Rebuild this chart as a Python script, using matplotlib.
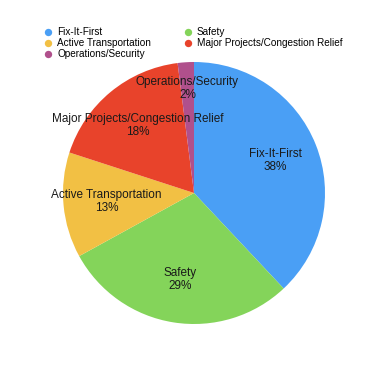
import numpy as np
import matplotlib.pyplot as plt
from matplotlib.lines import Line2D

plt.rcParams['font.family'] = ['Liberation Sans', 'DejaVu Sans']

categories = ['Fix-It-First', 'Safety', 'Active Transportation',
              'Major Projects/Congestion Relief', 'Operations/Security']
shares = [38, 29, 13, 18, 2]
colors = ['#4a9ff5', '#84d45a', '#f2c044', '#e8432b', '#b0508c']

W, H = 388, 387
fig = plt.figure(figsize=(W / 100, H / 100), dpi=100)

# pie centre (194, 193) px from top-left, radius 131 px
cx, cy, r = 194, 193, 131
ax = fig.add_axes([(cx - r) / W, (H - cy - r) / H, 2 * r / W, 2 * r / H])

labels = [f'{c}\n{v}%' for c, v in zip(categories, shares)]
wedges, texts = ax.pie(shares, colors=colors, startangle=90, counterclock=False,
                       labels=labels, labeldistance=0.67,
                       wedgeprops=dict(linewidth=0),
                       textprops=dict(fontsize=8.5, color='#1a1a1a'))
for w, t in zip(wedges, texts):
    t.set_horizontalalignment('center')
    t.set_verticalalignment('center')
    t.set_linespacing(1.15)

# small slice label sits further out
w, t = wedges[4], texts[4]
ang = np.radians((w.theta1 + w.theta2) / 2)
t.set_position((0.80 * np.cos(ang), 0.80 * np.sin(ang)))

ax.set_xlim(-1, 1)
ax.set_ylim(-1, 1)

# legend: column-wise fill, so reorder to get rows Fix/Safety, Active/Major, Ops
order = [0, 2, 4, 1, 3]
handles = [Line2D([], [], marker='o', linestyle='none', markersize=5.3,
                  markerfacecolor=colors[i], markeredgewidth=0) for i in order]
fig.legend(handles, [categories[i] for i in order], ncol=2,
           loc='upper left', bbox_to_anchor=(44 / W, 1 - 27 / H),
           frameon=False, fontsize=7.2, handlelength=0.8, handletextpad=0.5,
           labelspacing=0.12, columnspacing=3.3, borderpad=0, borderaxespad=0)

fig.savefig('out.png', dpi=100)
